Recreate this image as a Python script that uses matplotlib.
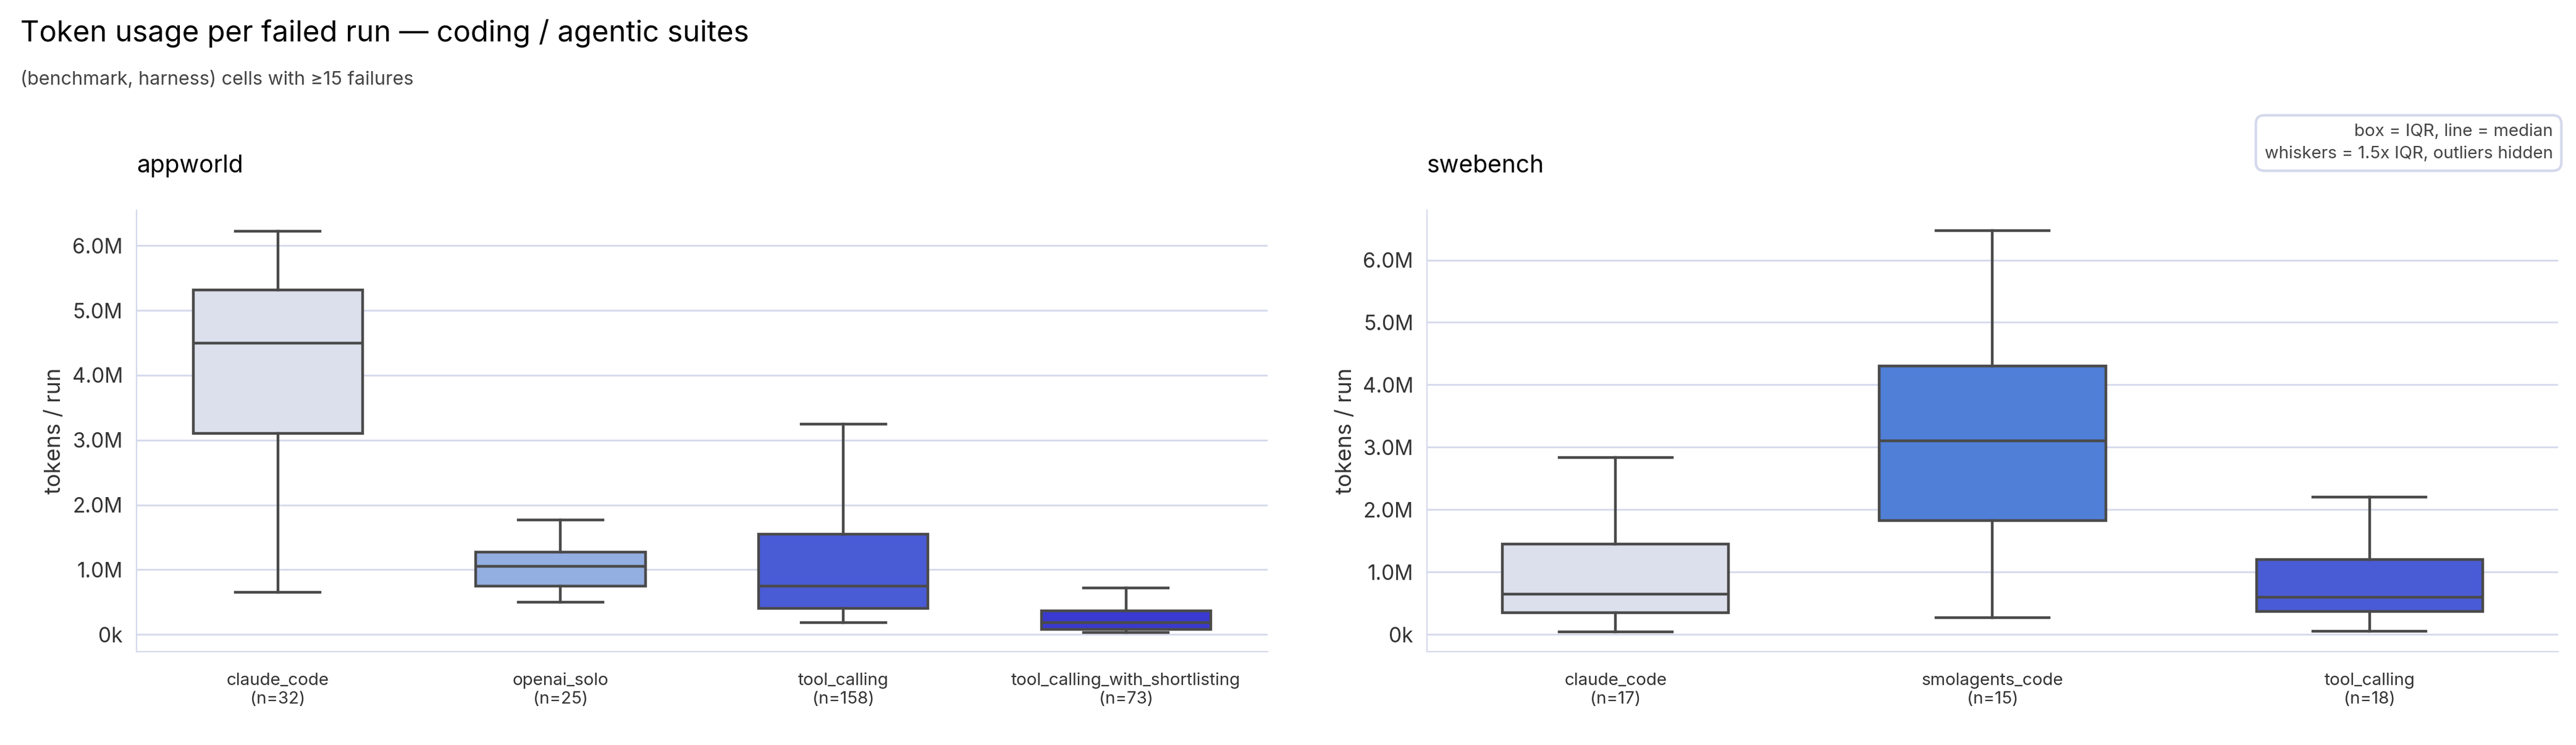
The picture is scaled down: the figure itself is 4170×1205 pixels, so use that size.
import matplotlib.pyplot as plt
from matplotlib.ticker import FuncFormatter

plt.rcParams['font.family'] = ['Inter', 'DejaVu Sans']

# appworld (values in millions of tokens)
aw_labels = ['claude_code', 'openai_solo', 'tool_calling', 'tool_calling_with_shortlisting']
aw_n = [32, 25, 158, 73]
aw_lo = [0.65, 0.50, 0.18, 0.03]
aw_q1 = [3.10, 0.75, 0.40, 0.08]
aw_med = [4.50, 1.05, 0.75, 0.18]
aw_q3 = [5.32, 1.27, 1.55, 0.36]
aw_hi = [6.22, 1.77, 3.25, 0.72]
aw_colors = ['#dce0ec', '#93aee0', '#4a5bd6', '#3a3ad0']

# swebench
sw_labels = ['claude_code', 'smolagents_code', 'tool_calling']
sw_n = [17, 15, 18]
sw_lo = [0.04, 0.27, 0.05]
sw_q1 = [0.35, 1.82, 0.37]
sw_med = [0.65, 3.10, 0.60]
sw_q3 = [1.45, 4.30, 1.20]
sw_hi = [2.83, 6.47, 2.20]
sw_colors = ['#dce0ec', '#4f7fd6', '#4a5bd6']

fig = plt.figure(figsize=(20.85, 6.025), dpi=200)
ax1 = fig.add_axes([0.053, 0.125, 0.439, 0.593])
ax2 = fig.add_axes([0.554, 0.125, 0.439, 0.593])


def fmt(v, _):
    return '0k' if abs(v) < 1e-9 else f'{v:.1f}M'


def draw(ax, title, labels, n, lo, q1, med, q3, hi, colors, ylim):
    stats = [dict(whislo=a * 1e0, q1=b, med=c, q3=d, whishi=e)
             for a, b, c, d, e in zip(lo, q1, med, q3, hi)]
    bp = ax.bxp(stats, showfliers=False, patch_artist=True, widths=0.6,
                boxprops=dict(edgecolor='#4a4a4a', linewidth=1.6),
                medianprops=dict(color='#4a4a4a', linewidth=1.6),
                whiskerprops=dict(color='#4a4a4a', linewidth=1.6),
                capprops=dict(color='#4a4a4a', linewidth=1.6), capwidths=0.3)
    for p, c in zip(bp['boxes'], colors):
        p.set_facecolor(c)
    ax.set_xticks(range(1, len(labels) + 1))
    ax.set_xticklabels([f'{l}\n(n={k})' for l, k in zip(labels, n)], fontsize=10, color='#333333')
    ax.set_ylim(*ylim)
    ax.set_yticks([0, 1, 2, 3, 4, 5, 6])
    ax.yaxis.set_major_formatter(FuncFormatter(fmt))
    ax.tick_params(axis='y', labelsize=12, colors='#333333', length=0, pad=8)
    ax.tick_params(axis='x', length=0, pad=12)
    ax.grid(axis='y', color='#d5d9ec', linewidth=1)
    ax.set_axisbelow(True)
    for s in ['top', 'right']:
        ax.spines[s].set_visible(False)
    for s in ['left', 'bottom']:
        ax.spines[s].set_color('#d5d9ec')
    ax.set_ylabel('tokens / run', fontsize=13, color='#333333')
    ax.set_title(title, loc='left', fontsize=14, pad=22)


draw(ax1, 'appworld', aw_labels, aw_n, aw_lo, aw_q1, aw_med, aw_q3, aw_hi, aw_colors, (-0.27, 6.55))
draw(ax2, 'swebench', sw_labels, sw_n, sw_lo, sw_q1, sw_med, sw_q3, sw_hi, sw_colors, (-0.28, 6.8))

fig.text(0.008, 0.955, 'Token usage per failed run — coding / agentic suites', fontsize=17, va='center')
fig.text(0.008, 0.893, '(benchmark, harness) cells with ≥15 failures', fontsize=11, color='#444444', va='center')
fig.text(0.991, 0.808, 'box = IQR, line = median\nwhiskers = 1.5x IQR, outliers hidden',
         fontsize=10, color='#444444', ha='right', va='center', linespacing=1.5,
         bbox=dict(boxstyle='round,pad=0.5', facecolor='white', edgecolor='#d5d9ec', linewidth=1.5))

fig.savefig('out.png')
